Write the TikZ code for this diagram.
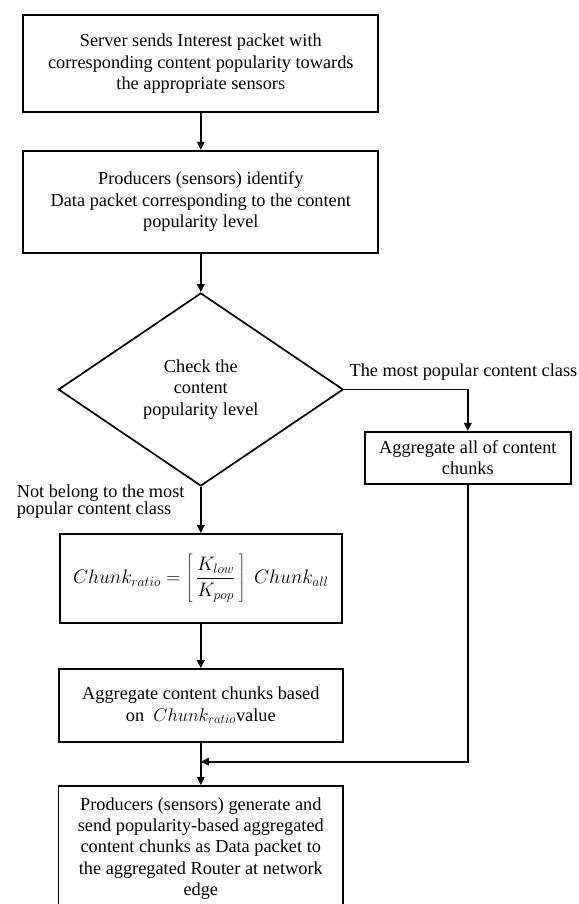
\documentclass[tikz,border=0pt]{standalone}
\usepackage{fix-cm}
\usepackage{fontspec}
\setmainfont{Liberation Serif}
\usetikzlibrary{shapes.geometric,arrows.meta}
\begin{document}
\begin{tikzpicture}[x=1pt,y=-1pt,
  every node/.style={font=\fontsize{18.3}{21.3}\selectfont},
  box/.style={draw,line width=1.7pt,align=center,inner sep=0pt},
  dia/.style={draw,line width=1.7pt,diamond,align=center,inner sep=0pt,minimum width=285pt,minimum height=193pt},
  lbl/.style={inner sep=0pt,align=left},
  arr/.style={line width=1.7pt,-{Triangle[length=8pt,width=7.5pt]}},
  ln/.style={line width=1.7pt}]
\useasboundingbox (0,0) rectangle (578,904);
\node[box,minimum width=355pt,minimum height=97.3pt] (b1) at (200.8,63.7)
  {Server sends Interest packet with\\corresponding content popularity towards\\the appropriate sensors};
\node[box,minimum width=355pt,minimum height=102pt] (b2) at (200.8,201.7)
  {Producers (sensors) identify\\Data packet corresponding to the content\\popularity level};
\node[dia] (d) at (200.8,389.5) {Check the\\content\\popularity level};
\node[box,minimum width=206pt,minimum height=52pt] (b3) at (467.8,457.8)
  {Aggregate all of content\\chunks};
\node[box,minimum width=282pt,minimum height=89pt] (m) at (200.8,578.5)
  {\fontsize{19.5}{22}\selectfont$\displaystyle Chunk_{ratio}=\left[\,\frac{K_{low}}{K_{pop}}\,\right]\;Chunk_{all}$};
\node[box,minimum width=284pt,minimum height=73pt] (b4) at (200.8,705.5)
  {Aggregate content chunks based\\on \ $Chunk_{ratio}$value};
\node[box,minimum width=284.5pt,minimum height=125pt,anchor=north] (b5) at (200.8,785)
  {Producers (sensors) generate and\\send popularity-based aggregated\\content chunks as Data packet to\\the aggregated Router at network\\edge};
\node[lbl,anchor=west] (l1) at (349.4,372) {The most popular content class};
\node[lbl,anchor=west,font=\fontsize{18.3}{17.5}\selectfont] (l2) at (16.6,501.5) {Not belong to the most\\popular content class};
\coordinate (j) at (200.8,761.7);
\draw[arr] (b1) -- (b2);
\draw[arr] (b2) -- (d);
\draw[arr] (d.east) -| (b3.north);
\draw[arr] (d) -- (m);
\draw[arr] (m) -- (b4);
\draw[arr] (b3.south) |- (j);
\draw[arr] (b4) -- (b5);
\end{tikzpicture}
\end{document}
